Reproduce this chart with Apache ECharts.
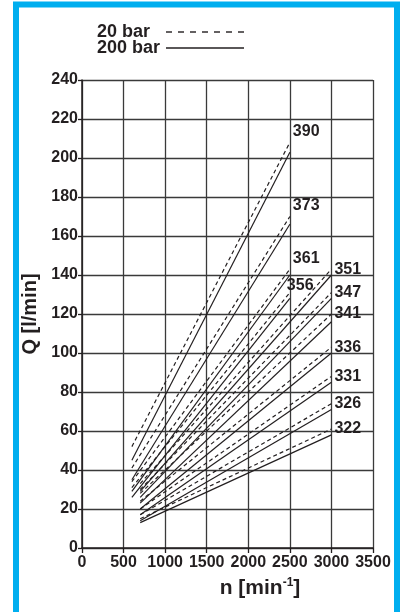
<!DOCTYPE html>
<html>
<head>
<meta charset="utf-8">
<script src="https://cdn.jsdelivr.net/npm/echarts@6/dist/echarts.min.js"></script>
<style>
html,body{margin:0;padding:0;background:#fff;}
#chart{width:404px;height:612px;}
</style>
</head>
<body>
<div id="chart"></div>
<script>
// Pump codes (curve labels)
const pumpCodes = ['390','373','361','356','351','347','341','336','331','326','322'];
// Speed range of each curve [min-1]
const nStart = [600,600,600,600,700,700,700,700,700,700,700];
const nEnd   = [2500,2500,2500,2500,3000,3000,3000,3000,3000,3000,3000];
// Flow at 20 bar (dashed) [l/min]
const q20Start = [52,41,34,31,33,30,28,24,20,17,15];
const q20End   = [208,170,143,131,143,131,120,103,88,74,61];
// Flow at 200 bar (solid) [l/min]
const q200Start = [45,35,29,26,29,26,23,20,17,14,13];
const q200End   = [203,166,140,128,140,128,116,100,85,71,58];
// Axis ticks
const xTicks = [0,500,1000,1500,2000,2500,3000,3500];
const yTicks = [0,20,40,60,80,100,120,140,160,180,200,220,240];

const INK = '#231f20';
const FONT = 'Liberation Sans, Arial, sans-serif';

function labelOffset(i){
  if (pumpCodes[i] === '356') return [-6, -7];
  if (nEnd[i] === 2500) return [0, -11];
  return [0, 0];
}

const series = [];
pumpCodes.forEach((code, i) => {
  series.push({
    name: '20 bar', type: 'line', symbol: 'none', silent: true,
    data: [[nStart[i], q20Start[i]], [nEnd[i], q20End[i]]],
    lineStyle: {color: INK, width: 1.2, type: [4, 3]},
    itemStyle: {color: INK},
    endLabel: {
      show: true, formatter: code, distance: 3, offset: labelOffset(i),
      fontSize: 16, fontWeight: 'bold', fontFamily: FONT, color: INK
    }
  });
  series.push({
    name: '200 bar', type: 'line', symbol: 'none', silent: true,
    data: [[nStart[i], q200Start[i]], [nEnd[i], q200End[i]]],
    lineStyle: {color: INK, width: 1.2, type: 'solid'},
    itemStyle: {color: INK}
  });
});

const chart = echarts.init(document.getElementById('chart'), null, {renderer: 'canvas'});
chart.setOption({
  animation: false,
  backgroundColor: '#fff',
  textStyle: {fontFamily: FONT, color: INK},
  grid: {left: 82, right: 31, top: 80, bottom: 64, containLabel: false},
  legend: {
    left: 92, top: 18, orient: 'vertical', align: 'right',
    itemWidth: 78, itemHeight: 10, itemGap: -2,
    data: [
      {name: '20 bar', lineStyle: {type: [6, 6], width: 1.4}},
      {name: '200 bar', lineStyle: {type: 'solid', width: 1.4}}
    ],
    selectedMode: false,
    itemStyle: {color: 'transparent', borderColor: 'transparent', borderWidth: 0, opacity: 0},
    lineStyle: {color: INK, width: 1.4},
    formatter: '{t|{name}}',
    textStyle: {
      fontSize: 18, fontWeight: 'bold', fontFamily: FONT, color: INK, lineHeight: 14,
      rich: {t: {fontSize: 18, fontWeight: 'bold', fontFamily: FONT, color: INK, width: 64, align: 'left', lineHeight: 14}}
    }
  },
  xAxis: {
    type: 'value', min: xTicks[0], max: xTicks[xTicks.length - 1], interval: 500,
    name: 'n [min{sup|-1}]', nameLocation: 'middle', nameGap: 29,
    nameTextStyle: {
      fontSize: 21, fontWeight: 'bold', fontFamily: FONT, color: INK, padding: [0, 0, 0, 65], lineHeight: 22,
      rich: {sup: {fontSize: 12, fontWeight: 'bold', fontFamily: FONT, color: INK, verticalAlign: 'top', lineHeight: 12}}
    },
    axisLine: {show: true, lineStyle: {color: INK, width: 1.5}},
    axisTick: {show: true, length: 5, lineStyle: {color: INK, width: 1.3}},
    splitLine: {show: true, lineStyle: {color: '#3a3a3a', width: 1.3}},
    axisLabel: {fontSize: 16, fontWeight: 'bold', fontFamily: FONT, color: INK, margin: 7,
      formatter: v => String(v)}
  },
  yAxis: {
    type: 'value', min: yTicks[0], max: yTicks[yTicks.length - 1], interval: 20,
    name: 'Q [l/min]', nameLocation: 'middle', nameGap: 31,
    nameTextStyle: {fontSize: 20, fontWeight: 'bold', fontFamily: FONT, color: INK},
    axisLine: {show: true, lineStyle: {color: INK, width: 1.5}},
    axisTick: {show: true, length: 4, lineStyle: {color: INK, width: 1.3}},
    splitLine: {show: true, lineStyle: {color: '#3a3a3a', width: 1.3}},
    axisLabel: {fontSize: 16, fontWeight: 'bold', fontFamily: FONT, color: INK, margin: 4,
      formatter: v => String(v)}
  },
  graphic: [
    {type: 'rect', silent: true, z: 100,
     shape: {x: 16, y: 4.5, width: 381, height: 640},
     style: {fill: 'none', stroke: '#00aeef', lineWidth: 6}}
  ],
  series: series
});
</script>
</body>
</html>
